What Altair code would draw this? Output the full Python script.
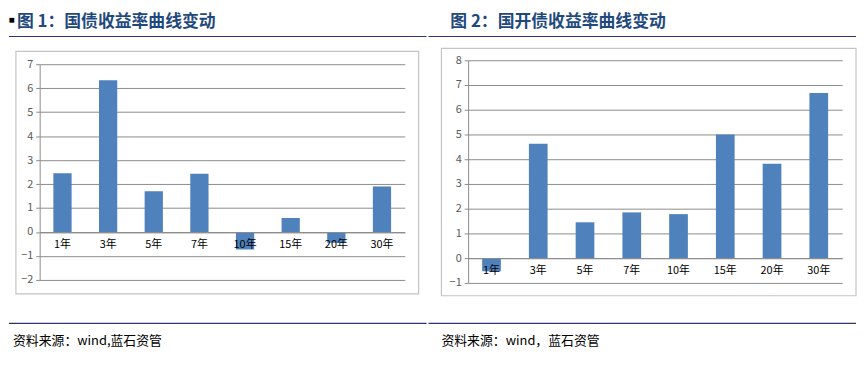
import altair as alt
import pandas as pd

categories = ["1年", "3年", "5年", "7年", "10年", "15年", "20年", "30年"]
gz_values = [2.45, 6.33, 1.70, 2.43, -0.73, 0.58, -0.45, 1.90]
gk_values = [-0.53, 4.62, 1.45, 1.85, 1.78, 5.00, 3.82, 6.68]
y_ticks_1 = [-2, -1, 0, 1, 2, 3, 4, 5, 6, 7]
y_ticks_2 = [-1, 0, 1, 2, 3, 4, 5, 6, 7, 8]
title_1 = "图 1：国债收益率曲线变动"
title_2 = "图 2：国开债收益率曲线变动"
source_1 = "资料来源：wind,蓝石资管"
source_2 = "资料来源：wind，蓝石资管"

FONT = "Noto Sans CJK SC"
BAR = "#4f81bd"
GRID = "#8c8c8c"
NAVY = "#2f3470"
TITLE_C = "#1f497d"
H = 225  # common view height (page y 59 .. 284)


def panel(values, ticks, W, r_bottom, r_top, title, source, lay):
    df = pd.DataFrame({"cat": categories, "v": values})
    lo, hi = ticks[0], ticks[-1]
    zero_y = r_top + (r_bottom - r_top) * hi / (hi - lo)
    bars = alt.Chart(df).mark_bar(color=BAR).encode(
        x=alt.X("cat:N", sort=categories,
                scale=alt.Scale(paddingInner=0.6, paddingOuter=0.3),
                axis=alt.Axis(title=None, labelAngle=0, ticks=False,
                              labelPadding=7, labelColor="#000000",
                              labelFont=FONT, labelFontSize=11,
                              domainColor=GRID, offset=-(H - zero_y),
                              zindex=1)),
        y=alt.Y("v:Q", scale=alt.Scale(domain=[lo, hi], nice=False, zero=False,
                                       range=[r_bottom, r_top]),
                axis=alt.Axis(title=None, values=ticks, grid=True,
                              gridColor=GRID, domainColor=GRID,
                              tickColor=GRID, tickSize=4, labelPadding=3,
                              labelColor="#595959", labelFont=FONT,
                              labelFontSize=11)),
    )
    one = pd.DataFrame({"a": [0]})
    base = alt.Chart(one)
    anchor = base.mark_rule(strokeOpacity=0).encode(
        x=alt.value(lay["rx0"]), x2=alt.value(lay["rx0"] + 10), y=alt.value(-51))
    frame = base.mark_rect(fill=None, stroke="#c4c4c4", strokeWidth=1.2).encode(
        x=alt.value(lay["bx0"]), x2=alt.value(lay["bx1"]),
        y=alt.value(lay["by0"]), y2=alt.value(lay["by1"]))
    top_rule = base.mark_rule(color=NAVY, strokeWidth=1.2).encode(
        x=alt.value(lay["rx0"]), x2=alt.value(lay["rx1"]),
        y=alt.value(-24))
    bot_rule = base.mark_rule(color=NAVY, strokeWidth=1.2).encode(
        x=alt.value(lay["rx0"]), x2=alt.value(lay["rx1"]),
        y=alt.value(266))
    ttl = base.mark_text(align="left", baseline="middle", font=FONT,
                         fontSize=17, fontWeight="bold", color=TITLE_C).encode(
        x=alt.value(lay["tx"]), y=alt.value(-39), text=alt.value(title))
    src = base.mark_text(align="left", baseline="middle", font=FONT,
                         fontSize=13, color="#000000").encode(
        x=alt.value(lay["sx"]), y=alt.value(284), text=alt.value(source))
    layers = [anchor, frame, top_rule, bot_rule, bars, ttl, src]
    if lay.get("bullet"):
        layers.append(base.mark_text(align="left", baseline="middle", fontSize=10,
                                     color="#000000").encode(
            x=alt.value(lay["rx0"]), y=alt.value(-41), text=alt.value("■")))
    return alt.layer(*layers).properties(width=W, height=H)


left = panel(gz_values, y_ticks_1, 369, 222, 4, title_1, source_1, dict(
    bx0=-24, bx1=383, by0=-9, by1=236, rx0=-31, rx1=391,
    tx=-23, sx=-27, bullet=True))
right = panel(gk_values, y_ticks_2, 378, 225, 0, title_2, source_2, dict(
    bx0=-27, bx1=392, by0=-12, by1=238, rx0=-40, rx1=392,
    tx=-18, sx=-27))

chart = alt.hconcat(left, right, spacing=0).properties(padding=0).configure_view(stroke=None)
chart.save("out.html", embed_options={"renderer": "svg", "actions": False})
